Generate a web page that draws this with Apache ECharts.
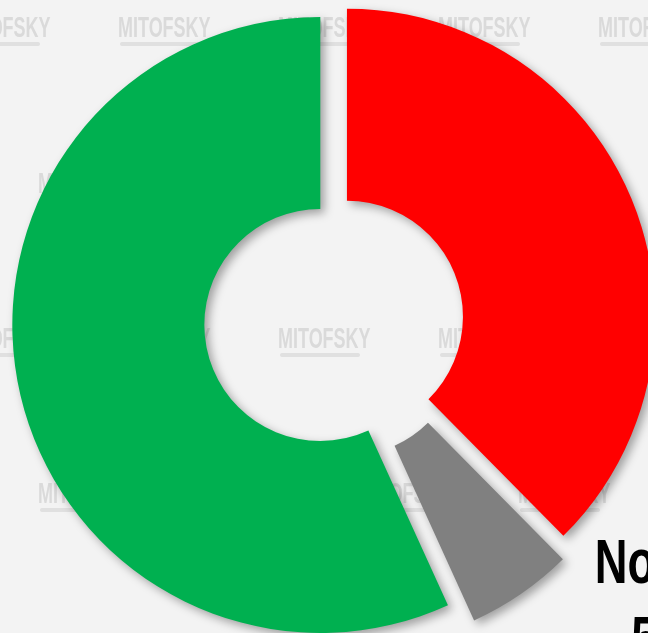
<!DOCTYPE html>
<html>
<head>
<meta charset="utf-8">
<script src="https://cdn.jsdelivr.net/npm/echarts@6/dist/echarts.min.js"></script>
<style>
  html, body { margin: 0; padding: 0; background: #f3f3f3; }
  #main { width: 648px; height: 633px; }
</style>
</head>
<body>
<div id="main"></div>
<script>
// poll answers, clockwise from 12 o'clock
var categories = ['Desaprueba', 'No sabe', 'Aprueba'];
var values = [37.6, 5.6, 56.8];
var colors = ['#FF0000', '#808080', '#00B050'];

var chart = echarts.init(document.getElementById('main'), null, { renderer: 'canvas' });

var shadow = {
    shadowBlur: 10,
    shadowOffsetX: 4,
    shadowOffsetY: 4,
    shadowColor: 'rgba(0,0,0,0.35)'
};

// big slices (slightly exploded)
var bigData = categories.map(function (name, i) {
    if (i === 1) {
        return { name: name, value: values[i], itemStyle: { color: 'rgba(0,0,0,0)', shadowBlur: 0 } };
    }
    return { name: name, value: values[i], selected: true, itemStyle: Object.assign({ color: colors[i] }, shadow) };
});

// gray slice, pulled out further
var smallData = categories.map(function (name, i) {
    if (i !== 1) {
        return { name: name, value: values[i], itemStyle: { color: 'rgba(0,0,0,0)', shadowBlur: 0 } };
    }
    return { name: name, value: values[i], selected: true, itemStyle: Object.assign({ color: colors[i] }, shadow) };
});

// watermark
var marks = [];
var rowsY = [14, 170, 325, 480];
for (var r = 0; r < rowsY.length; r++) {
    var off = (r % 2 === 0) ? -42 : 38;
    for (var x = off; x < 700; x += 160) {
        marks.push({
            type: 'text', x: x, y: rowsY[r], z: -10, silent: true, scaleX: 0.62,
            style: { text: 'MITOFSKY', font: 'bold 29px "Liberation Sans"', fill: '#dadada' }
        });
        marks.push({
            type: 'rect', x: x + 2, y: rowsY[r] + 28, z: -10, silent: true,
            shape: { width: 80, height: 4, r: 2 },
            style: { fill: '#e0e0e0' }
        });
    }
}

// label of the gray slice
marks.push({
    type: 'text', x: 683, y: 527, z: 10, silent: true, scaleX: 0.72,
    style: {
        text: categories[1] + '\n' + values[1] + '%',
        font: 'bold 63px "Liberation Sans"',
        lineHeight: 77,
        fill: '#000',
        align: 'center',
        verticalAlign: 'top'
    }
});

var option = {
    backgroundColor: '#f3f3f3',
    animation: false,
    graphic: marks,
    series: [
        {
            type: 'pie',
            silent: true,
            selectedMode: 'multiple',
            selectedOffset: 14,
            center: [334, 322],
            radius: [116, 308],
            startAngle: 90,
            clockwise: true,
            label: { show: false },
            labelLine: { show: false },
            emphasis: { disabled: true },
            data: bigData
        },
        {
            type: 'pie',
            silent: true,
            selectedMode: 'multiple',
            selectedOffset: 22,
            center: [334, 322],
            radius: [116, 308],
            startAngle: 90,
            clockwise: true,
            label: { show: false },
            labelLine: { show: false },
            emphasis: { disabled: true },
            data: smallData
        }
    ]
};

chart.setOption(option);
</script>
</body>
</html>
